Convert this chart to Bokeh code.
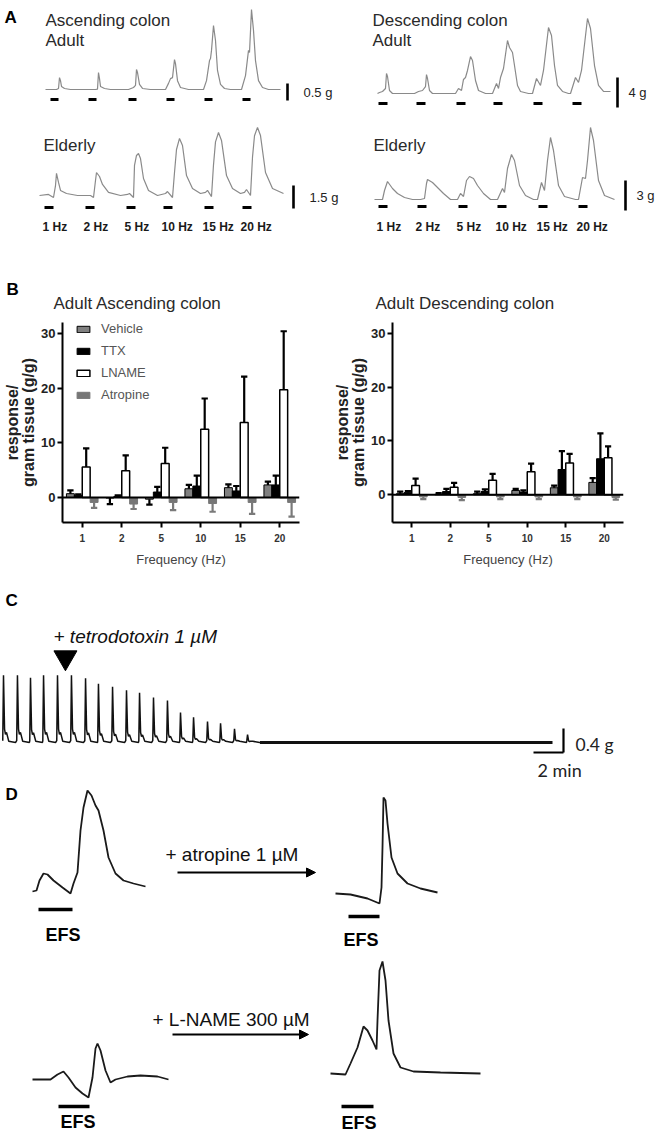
from bokeh.plotting import figure
from bokeh.models import (Range1d, FactorRange, Label, Arrow, NormalHead, Span,
                          ColumnDataSource, FixedTicker, Legend, LegendItem)
from bokeh.layouts import column, row
from bokeh.transform import dodge
from bokeh.embed import file_html
from bokeh.resources import INLINE

ARIAL = "Liberation Sans"
CALIBRI = "Lato"

# ---------------- Panel A: EFS traces (time in s, tension in g) ----------------
freq_labels = ["1 Hz", "2 Hz", "5 Hz", "10 Hz", "15 Hz", "20 Hz"]

asc_adult_t = [0, 11, 13, 14, 15, 16, 19, 25,
               50, 52, 53, 54, 55, 59, 65,
               83, 88, 90, 91, 92, 94, 97, 105,
               120, 123, 125, 127, 129, 130, 132, 135, 143,
               158, 161, 164, 165, 166, 168, 170, 172, 175, 179, 185,
               196, 200, 203, 204, 206, 208, 210, 213, 217, 223, 235]
asc_adult_g = [0, 0, 0.03, 0.35, 0.26, 0.09, 0.03, 0,
               0, 0.01, 0.5, 0.32, 0.09, 0.03, 0,
               0, 0.06, 0.12, 0.59, 0.5, 0.15, 0.03, 0,
               0, 0.18, 0.32, 0.35, 0.88, 0.76, 0.26, 0.06, 0,
               0, 0.26, 0.85, 0.91, 1.15, 1.88, 1.44, 0.56, 0.15, 0.03, 0,
               0, 0.41, 1.15, 1.09, 2.35, 1.74, 0.85, 0.26, 0.06, 0, 0]
asc_adult_stim = [5, 43, 83, 121, 159, 197]

desc_adult_t = [0, 2, 5, 8, 9, 10, 12, 15,
                37, 41, 45, 48, 49, 50, 52, 55,
                78, 81, 84, 86, 88, 90, 93, 95, 98, 101, 108,
                115, 119, 121, 123, 126, 130, 132, 135, 137, 140, 143, 151,
                155, 159, 163, 166, 171, 174, 177, 180, 185, 191,
                193, 198, 201, 204, 210, 213, 217, 221, 226, 233]
desc_adult_g = [0, 0.13, 0.27, 0.67, 2.67, 2.27, 0.4, 0,
                0, 0.27, 0.4, 0.93, 2.53, 2.0, 0.4, 0,
                0, 0.67, 0.4, 1.87, 2.13, 3.07, 4.93, 4.4, 1.73, 0.4, 0,
                0, 1.33, 0.67, 2.13, 3.33, 7.07, 6.13, 5.47, 3.73, 1.07, 0.27, 0,
                0, 2.0, 1.07, 3.07, 8.8, 7.73, 3.73, 1.07, 0.27, 0,
                0, 2.13, 1.47, 3.07, 10.0, 8.67, 3.73, 1.07, 0.27, 0.27]
desc_adult_stim = [1, 39, 79, 116, 156, 195]

asc_old_t = [0, 9, 14, 16, 17, 19, 21, 27, 38,
             51, 54, 56, 57, 60, 63, 69, 81,
             88, 90, 94, 95, 97, 99, 101, 104, 109, 118,
             126, 128, 133, 135, 137, 140, 143, 147, 153, 161,
             166, 168, 172, 174, 176, 179, 182, 187, 193, 201,
             205, 207, 211, 213, 215, 218, 221, 226, 233, 244]
asc_old_g = [0, 0.07, -0.13, 0.65, 1.44, 0.85, 0.33, 0.13, 0,
             0, -0.13, 0.98, 1.5, 1.24, 0.72, 0.2, 0,
             0.07, 0.13, -0.13, 1.96, 2.61, 2.74, 2.41, 1.11, 0.33, 0,
             0.13, 0.26, -0.13, 1.5, 3.0, 3.72, 3.26, 1.3, 0.46, 0.13,
             0.2, 0.33, -0.07, 2.0, 3.5, 4.11, 3.59, 1.3, 0.46, 0.13,
             0.2, 0.39, 0, 2.5, 3.9, 4.44, 3.91, 1.5, 0.46, 0.13]
asc_old_stim = [5, 46, 87, 124, 165, 203]

desc_old_t = [0, 8, 10, 13, 18, 23, 30, 38,
              46, 50, 52, 53, 58, 62, 69, 76,
              83, 86, 89, 92, 95, 99, 103, 109, 116,
              123, 128, 130, 133, 137, 140, 145, 151, 159,
              163, 167, 170, 173, 176, 179, 184, 190, 201,
              204, 208, 211, 213, 216, 219, 224, 230, 240]
desc_old_g = [0, 0, 0.9, 1.8, 1.1, 0.6, 0.2, 0,
              0, 0.1, 1.6, 2.0, 1.7, 1.3, 0.6, 0,
              0, 0.6, 0.3, 1.9, 2.3, 2.1, 1.4, 0.6, 0,
              0, 1.1, 0.7, 3.1, 4.5, 3.9, 1.4, 0.4, 0,
              0, 1.7, 0.9, 3.9, 6.2, 4.9, 1.4, 0.3, 0,
              0, 2.2, 2.1, 3.9, 7.2, 5.9, 1.9, 0.4, 0]
desc_old_stim = [4, 43, 84, 123, 164, 204]

# ---------------- Panel B: bar data (response / gram tissue, g/g) ----------------
freqs = ["1", "2", "5", "10", "15", "20"]
asc_veh = [0.7, -0.1, -0.3, 1.6, 1.8, 2.3]
asc_veh_err = [1.3, -1.2, -1.3, 2.3, 2.4, 2.9]
asc_ttx = [0.4, 0.2, 1.0, 2.1, 1.2, 2.3]
asc_ttx_err = [0.6, 0.4, 1.95, 4.0, 2.1, 4.0]
asc_lname = [5.6, 4.9, 6.2, 12.5, 13.7, 19.7]
asc_lname_err = [9.0, 7.7, 9.1, 18.1, 22.1, 30.4]
asc_atr = [-0.9, -1.2, -0.9, -1.1, -0.9, -0.9]
asc_atr_err = [-1.9, -2.1, -2.3, -2.6, -3.0, -3.5]

desc_veh = [0.2, 0.1, 0.2, 0.8, 1.3, 2.3]
desc_veh_err = [0.6, 0.3, 0.6, 1.1, 1.7, 3.1]
desc_ttx = [0.4, 0.6, 0.6, 0.5, 4.7, 6.7]
desc_ttx_err = [0.7, 1.1, 1.0, 0.8, 8.1, 11.4]
desc_lname = [1.7, 1.4, 2.7, 4.3, 5.9, 6.9]
desc_lname_err = [3.0, 2.2, 3.9, 5.8, 7.6, 9.0]
desc_atr = [-0.4, -0.5, -0.4, -0.4, -0.4, -0.5]
desc_atr_err = [-0.8, -1.0, -0.8, -0.8, -0.8, -0.9]

# ---------------- Panel C: TTX trace (time in min, tension in g) ----------------
c_spike_t = [0.2, 1.13, 2.0, 2.87, 3.8, 4.73, 5.67, 6.53, 7.47, 8.4, 9.27, 10.2,
             11.13, 12.0, 12.87, 13.8, 14.67, 15.6, 16.47]
c_spike_g = [1.12, 1.12, 1.08, 1.12, 1.12, 1.12, 1.07, 0.98, 0.93, 0.87, 0.83, 0.75,
             0.70, 0.50, 0.42, 0.35, 0.32, 0.23, 0.13]
c_flat_t = [17.3, 36.8]
c_flat_g = [0.0, 0.0]
c_ttx_t = 4.33

# ---------------- Panel D: EFS responses (time in s, tension in a.u.) ----------------
d1_t = [0, 4, 7, 11, 15, 21, 30, 38, 41, 45, 48, 51, 55, 59, 63, 66, 71, 76, 83, 91, 101, 113]
d1_v = [0, 0.1, 1.1, 1.8, 1.7, 1.1, 0.4, -0.2, 0.8, 1.9, 6.1, 8.4, 10.1, 9.6, 8.6, 8.1, 6.1, 3.4, 1.8, 1.1, 0.8, 0.5]
d1_efs = [6, 40]
d2_t = [0, 15, 32, 44, 46, 47, 48, 50, 52, 56, 62, 72, 85, 102]
d2_v = [0, -0.1, -0.5, -1.0, 0.6, 4.6, 9.6, 9.3, 7.0, 3.6, 2.0, 1.0, 0.5, 0.1]
d2_efs = [13, 44]
d3_t = [0, 18, 25, 31, 36, 43, 50, 56, 60, 63, 65, 68, 73, 78, 83, 95, 108, 125, 136]
d3_v = [0, 0, 0.5, 0.8, 0.2, -0.8, -1.4, -1.8, 0.2, 3.1, 3.6, 2.9, 0.9, -0.3, 0, 0.3, 0.4, 0.3, 0]
d3_efs = [26, 57]
d4_t = [0, 15, 20, 27, 33, 37, 42, 46, 47, 49, 52, 55, 58, 63, 70, 83, 110, 150]
d4_v = [0, -0.1, 1.0, 2.6, 4.7, 4.3, 3.3, 2.4, 5.3, 10.3, 11.2, 9.3, 5.3, 2.0, 0.6, 0.2, 0.1, 0]
d4_efs = [11, 43]


# ---------------- helpers ----------------
def canvas(x0, x1, ytop, ybot):
    p = figure(width=x1 - x0, height=ybot - ytop, x_range=Range1d(x0, x1),
               y_range=Range1d(ybot, ytop), x_axis_type=None, y_axis_type=None,
               toolbar_location=None, output_backend="svg", min_border=0,
               min_border_left=0, min_border_right=0, min_border_top=0,
               min_border_bottom=0, outline_line_color=None)
    return p


def place(p, name, x0px, y0px, sx, sy):
    X0, X1 = p.x_range.start, p.x_range.end
    Yb, Yt = p.y_range.start, p.y_range.end
    xr = dict(p.extra_x_ranges)
    xr[name] = Range1d((X0 - x0px) / sx, (X1 - x0px) / sx)
    p.extra_x_ranges = xr
    yr = dict(p.extra_y_ranges)
    yr[name] = Range1d((y0px - Yb) / sy, (y0px - Yt) / sy)
    p.extra_y_ranges = yr


def lab(p, x, y, text, size, style="normal", font=ARIAL, color="#222222",
        align="left", baseline="alphabetic", xr="default", yr="default"):
    p.add_layout(Label(x=x, y=y, text=text, text_font_size=f"{size}px",
                       text_font_style=style, text_font=font, text_color=color,
                       text_align=align, text_baseline=baseline,
                       x_range_name=xr, y_range_name=yr))


# ================= Canvas A (page y 0..318) =================
pA = canvas(0, 661, 0, 318)

traces_A = [
    ("a1", asc_adult_t, asc_adult_g, asc_adult_stim, 45, 89, 34.0, 99, 0.5, 287, 100, "0.5 g", 8),
    ("a2", desc_adult_t, desc_adult_g, desc_adult_stim, 377, 93, 7.5, 103, 4, 617, 107, "4 g", 9),
    ("a3", asc_old_t, asc_old_g, asc_old_stim, 39, 195, 23 / 1.5, 207, 1.5, 293, 208, "1.5 g", 9),
    ("a4", desc_old_t, desc_old_g, desc_old_stim, 374, 199, 10.0, 206, 3, 625, 210, "3 g", 9),
]
for name, t, g, stim, x0px, base, spg, sty, sg, sbx, sbb, slab, dur in traces_A:
    place(pA, name, x0px, base, 1.0, spg)
    pA.line(t, g, x_range_name=name, y_range_name=name, line_color="#8a8a8a", line_width=1.2)
    pA.segment(x0=stim, x1=[s + dur for s in stim], y0=[sty] * len(stim), y1=[sty] * len(stim),
               x_range_name=name, y_range_name="default", line_color="black",
               line_width=3.2, line_cap="butt")
    gb = (base - sbb) / spg
    pA.segment(x0=[sbx], x1=[sbx], y0=[gb], y1=[gb + sg], x_range_name="default",
               y_range_name=name, line_color="black", line_width=2.6, line_cap="butt")
    lab(pA, sbx + 16 if len(slab) > 3 else sbx + 11, (sbb + (sbb - sg * spg)) / 2, slab, 13,
        baseline="middle", color="#222222")
    if name in ("a3", "a4"):
        for s, fl in zip(stim, freq_labels):
            lab(pA, s - 2, 226, fl, 12, style="bold", xr=name, color="#1a1a1a")

lab(pA, 4, 17, "A", 17, style="bold", color="black")
lab(pA, 45, 20, "Ascending colon", 17, color="#2a2a2a")
lab(pA, 45, 40, "Adult", 17, color="#2a2a2a")
lab(pA, 372, 20, "Descending colon", 17, color="#2a2a2a")
lab(pA, 372, 40, "Adult", 17, color="#2a2a2a")
lab(pA, 43, 145, "Elderly", 17, color="#2a2a2a")
lab(pA, 373, 145, "Elderly", 17, color="#2a2a2a")
lab(pA, 6, 289, "B", 17, style="bold", color="black")
lab(pA, 53, 303, "Adult Ascending colon", 17, color="#2a2a2a")
lab(pA, 375, 303, "Adult Descending colon", 17, color="#2a2a2a")


# ================= Row B (page y 318..570) =================
def bar_fig(width, bl, br, bt, ystart, yend, vals, with_legend):
    p = figure(width=width, height=252, x_range=FactorRange(factors=freqs),
               y_range=Range1d(ystart, yend), toolbar_location=None,
               output_backend="svg", min_border_left=bl, min_border_right=br,
               min_border_top=bt, min_border_bottom=48, outline_line_color=None)
    p.xgrid.visible = False
    p.ygrid.visible = False
    veh, veh_e, ttx, ttx_e, ln, ln_e, atr, atr_e = vals
    src = ColumnDataSource(dict(freq=freqs, veh=veh, veh_e=veh_e, ttx=ttx, ttx_e=ttx_e,
                                ln=ln, ln_e=ln_e, atr=atr, atr_e=atr_e))
    specs = [("veh", "veh_e", -0.3, "#808080", "black", "black", "Vehicle", 1),
             ("ttx", "ttx_e", -0.1, "black", "black", "black", "TTX", 1),
             ("ln", "ln_e", 0.1, "white", "black", "black", "LNAME", 1.5),
             ("atr", "atr_e", 0.3, "#767676", "#767676", "#7a7a7a", "Atropine", 1)]
    items = []
    for key, ekey, off, fc, lc, ec, lbl, lw in specs:
        r = p.vbar(x=dodge("freq", off, range=p.x_range), top=key, width=0.2, source=src,
                   fill_color=fc, line_color=lc, line_width=lw)
        items.append(LegendItem(label=lbl, renderers=[r]))
        p.segment(x0=dodge("freq", off, range=p.x_range), x1=dodge("freq", off, range=p.x_range),
                  y0=key, y1=ekey, source=src, line_color=ec, line_width=2.2)
        p.segment(x0=dodge("freq", off - 0.08, range=p.x_range),
                  x1=dodge("freq", off + 0.08, range=p.x_range),
                  y0=ekey, y1=ekey, source=src, line_color=ec, line_width=2.2)
    p.add_layout(Span(location=0, dimension="width", line_color="black", line_width=2))
    if with_legend:
        leg = Legend(items=items, location=(13, 120), glyph_width=16, glyph_height=8,
                     label_height=14, spacing=7, padding=0, margin=0, label_standoff=10,
                     label_text_font_size="13px", label_text_color="#555555",
                     label_text_font=ARIAL, border_line_color=None, background_fill_alpha=0)
        p.add_layout(leg)
    ya = p.yaxis[0]
    ya.ticker = FixedTicker(ticks=[0, 10, 20, 30])
    ya.minor_tick_line_color = None
    ya.major_tick_out = 5
    ya.major_tick_in = 0
    ya.axis_line_width = 2
    ya.major_tick_line_width = 2
    ya.major_label_text_font = ARIAL
    ya.major_label_text_font_style = "bold"
    ya.major_label_text_font_size = "13px"
    ya.major_label_text_color = "#222222"
    ya.major_label_standoff = 2
    ya.axis_label = "response/\ngram tissue (g/g)"
    ya.axis_label_text_font = ARIAL
    ya.axis_label_text_font_style = "bold"
    ya.axis_label_text_font_size = "16px"
    ya.axis_label_text_color = "#222222"
    ya.axis_label_text_line_height = 0.95
    ya.axis_label_standoff = 1
    xa = p.xaxis[0]
    xa.major_tick_out = 5
    xa.major_tick_in = 0
    xa.axis_line_width = 2
    xa.major_tick_line_width = 2
    xa.major_label_text_font = ARIAL
    xa.major_label_text_font_style = "bold"
    xa.major_label_text_font_size = "10px"
    xa.major_label_text_color = "#333333"
    xa.major_label_standoff = 6
    xa.axis_label = "Frequency (Hz)"
    xa.axis_label_text_font = ARIAL
    xa.axis_label_text_font_style = "normal"
    xa.axis_label_text_font_size = "13px"
    xa.axis_label_text_color = "#444444"
    xa.axis_label_standoff = 7
    return p


pB1 = bar_fig(330, 59, 31, 4, -4.57, 32.0,
              (asc_veh, asc_veh_err, asc_ttx, asc_ttx_err, asc_lname, asc_lname_err,
               asc_atr, asc_atr_err), True)
pB2 = bar_fig(331, 53, 38, 2, -5.16, 32.04,
              (desc_veh, desc_veh_err, desc_ttx, desc_ttx_err, desc_lname, desc_lname_err,
               desc_atr, desc_atr_err), False)

# ================= Canvas C/D (page y 570..1133) =================
pC = canvas(0, 661, 570, 1133)

# C trace: each recorded contraction drawn as a spike with its relaxation
place(pC, "c", 0, 742, 15.0, 60.0)
c_t, c_g = [], []
for ts, P in zip(c_spike_t, c_spike_g):
    c_t += [ts - 0.05, ts, ts + 0.07, ts + 0.13, ts + 0.2, ts + 0.35, ts + 0.8]
    c_g += [0.03, P, 0.2 * P, 0.12 * P, 0.15 * P, 0.02, 0.0]
c_t.append(c_flat_t[0])
c_g.append(c_flat_g[0])
pC.line(c_t, c_g, x_range_name="c", y_range_name="c", line_color="#111111", line_width=1.5)
pC.line(c_flat_t, c_flat_g, x_range_name="c", y_range_name="c", line_color="#111111", line_width=3.2)
pC.scatter(x=[c_ttx_t], y=[657], x_range_name="c", y_range_name="default",
           marker="inverted_triangle", size=23, color="black")
sb_t = 563 / 15.0
sb_g = (742 - 752) / 60.0
pC.segment(x0=[sb_t, sb_t - 2.0], x1=[sb_t, sb_t], y0=[sb_g, sb_g], y1=[sb_g + 0.4, sb_g],
           x_range_name="c", y_range_name="c", line_color="black", line_width=2.2)
lab(pC, 575, 744, "0.4 g", 17.5, font=CALIBRI, baseline="middle")
lab(pC, 537, 769, "2 min", 18, font=CALIBRI, baseline="middle")
lab(pC, 5, 600, "C", 17, style="bold", color="black")
lab(pC, 53, 636, "+ tetrodotoxin 1 \u00b5M", 19, style="italic", color="#111111")

# D traces
lab(pC, 5, 794, "D", 17, style="bold", color="black")
d_traces = [("d1", d1_t, d1_v, d1_efs, 32, 891, 909, 45, 934),
            ("d2", d2_t, d2_v, d2_efs, 335, 893, 916, 343, 939),
            ("d3", d3_t, d3_v, d3_efs, 32, 1079, 1106, 60, 1121),
            ("d4", d4_t, d4_v, d4_efs, 330, 1073, 1106, 341, 1122)]
for name, t, v, efs, x0px, base, efs_y, lx, ly in d_traces:
    place(pC, name, x0px, base, 1.0, 10.0)
    pC.line(t, v, x_range_name=name, y_range_name=name, line_color="#1a1a1a", line_width=1.8)
    pC.segment(x0=[efs[0]], x1=[efs[1]], y0=[efs_y], y1=[efs_y], x_range_name=name,
               y_range_name="default", line_color="black", line_width=3.5, line_cap="butt")
    lab(pC, lx, ly, "EFS", 18, style="bold", baseline="middle", color="black")

pC.add_layout(Arrow(end=NormalHead(size=9, fill_color="black", line_color="black"),
                    x_start=177, y_start=872, x_end=315, y_end=872,
                    line_color="black", line_width=2))
pC.add_layout(Arrow(end=NormalHead(size=9, fill_color="black", line_color="black"),
                    x_start=172, y_start=1034, x_end=308, y_end=1034,
                    line_color="black", line_width=2))
lab(pC, 165, 854, "+ atropine 1 \u00b5M", 19, baseline="middle", color="#111111")
lab(pC, 152, 1019, "+ L-NAME 300 \u00b5M", 19, baseline="middle", color="#111111")

layout = column(pA, row(pB1, pB2), pC)
open("out.html", "w").write(file_html(layout, INLINE))
